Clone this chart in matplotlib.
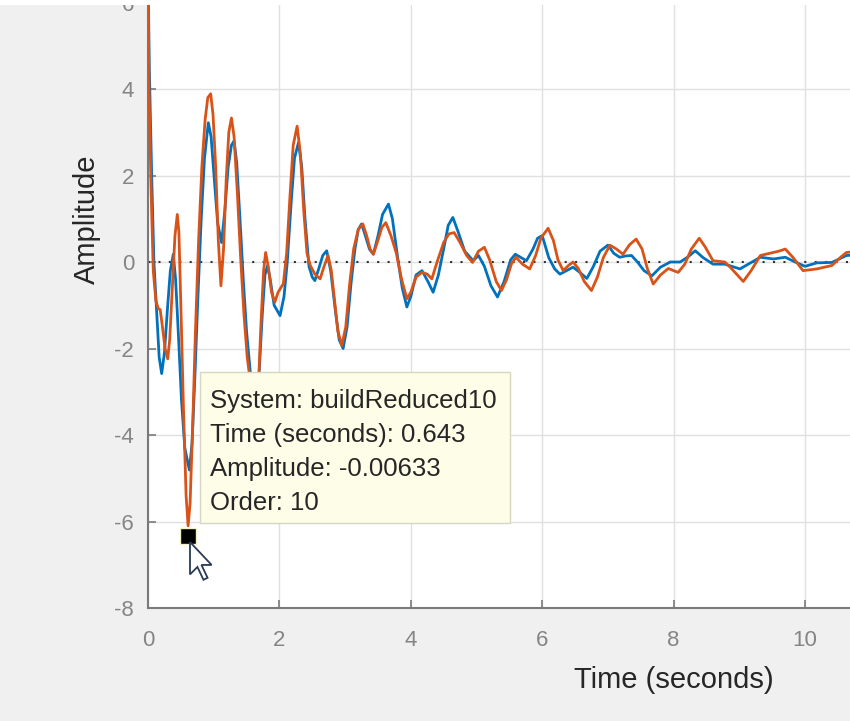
import matplotlib
matplotlib.use("Agg")
import matplotlib.pyplot as plt
from matplotlib.patches import Rectangle, Polygon

plt.rcParams['font.family'] = ['Liberation Sans', 'DejaVu Sans']
plt.rcParams['axes.unicode_minus'] = False

# impulse response: (time, amplitude)
t_full = [0.0, 0.02, 0.055, 0.09, 0.132, 0.17, 0.208, 0.25, 0.30, 0.34, 0.385, 0.42, 0.46, 0.51,
          0.56, 0.63, 0.67, 0.71, 0.76, 0.81, 0.86, 0.918, 0.96, 1.01, 1.06, 1.12, 1.17, 1.22,
          1.27, 1.31, 1.35, 1.40, 1.45, 1.50, 1.56, 1.63, 1.69, 1.74, 1.78, 1.82, 1.86, 1.92,
          2.01, 2.07, 2.12, 2.18, 2.23, 2.29, 2.34, 2.39, 2.45, 2.50, 2.54, 2.60, 2.66, 2.72,
          2.78, 2.85, 2.91, 2.97, 3.03, 3.09, 3.15, 3.20, 3.25, 3.31, 3.37, 3.43, 3.50, 3.57,
          3.66, 3.72, 3.80, 3.87, 3.94, 4.00, 4.08, 4.17, 4.26, 4.34, 4.42, 4.50, 4.57, 4.64,
          4.72, 4.82, 4.95, 5.03, 5.12, 5.22, 5.32, 5.42, 5.52, 5.59, 5.68, 5.76, 5.86, 5.93,
          6.00, 6.10, 6.19, 6.27, 6.37, 6.47, 6.58, 6.68, 6.78, 6.88, 7.00, 7.09, 7.18, 7.27,
          7.36, 7.45, 7.55, 7.67, 7.80, 7.95, 8.10, 8.22, 8.33, 8.45, 8.60, 8.78, 9.01, 9.17,
          9.32, 9.52, 9.70, 9.85, 10.0, 10.18, 10.41, 10.63, 10.75]
y_full = [6.8, 4.5, 2.07, 0.0, -1.15, -2.2, -2.58, -2.1, -1.0, -0.2, 0.18, -0.4, -1.6, -3.2,
          -4.3, -4.81, -4.2, -2.8, -0.8, 1.0, 2.4, 3.22, 2.9, 1.9, 0.9, 0.45, 1.2, 2.2,
          2.7, 2.8, 2.3, 1.0, -0.4, -1.6, -2.6, -3.0, -2.6, -1.2, -0.3, -0.08, -0.4, -1.0,
          -1.24, -0.8, 0.0, 1.4, 2.4, 2.76, 2.2, 1.0, -0.1, -0.35, -0.43, -0.15, 0.15, 0.26,
          -0.2, -1.1, -1.8, -2.0, -1.5, -0.5, 0.3, 0.75, 0.88, 0.6, 0.3, 0.18, 0.6, 1.1,
          1.34, 1.0, 0.1, -0.6, -1.04, -0.8, -0.3, -0.2, -0.45, -0.70, -0.3, 0.3, 0.85, 1.03,
          0.7, 0.25, 0.03, 0.15, -0.1, -0.55, -0.81, -0.45, 0.05, 0.18, 0.1, 0.03, 0.3, 0.55,
          0.61, 0.1, -0.16, -0.28, -0.2, -0.12, -0.25, -0.38, -0.1, 0.25, 0.39, 0.2, 0.11, 0.14,
          0.15, 0.0, -0.2, -0.32, -0.12, 0.0, 0.0, 0.12, 0.26, 0.1, -0.05, -0.05, -0.16, -0.02,
          0.11, 0.07, 0.11, 0.0, -0.1, -0.02, -0.01, 0.15, 0.16]

t_red = [0.0, 0.015, 0.045, 0.08, 0.12, 0.157, 0.185, 0.22, 0.26, 0.30, 0.33, 0.37, 0.41, 0.446,
         0.47, 0.50, 0.54, 0.58, 0.61, 0.64, 0.68, 0.72, 0.77, 0.82, 0.87, 0.91, 0.954, 0.99,
         1.03, 1.07, 1.11, 1.15, 1.19, 1.23, 1.27, 1.31, 1.36, 1.41, 1.46, 1.51, 1.56, 1.62,
         1.68, 1.72, 1.76, 1.79, 1.83, 1.88, 1.93, 1.98, 2.06, 2.11, 2.16, 2.21, 2.27, 2.32,
         2.37, 2.42, 2.47, 2.54, 2.62, 2.68, 2.74, 2.79, 2.84, 2.89, 2.95, 3.01, 3.07, 3.13,
         3.20, 3.27, 3.33, 3.38, 3.43, 3.50, 3.56, 3.62, 3.70, 3.78, 3.86, 3.94, 4.00, 4.08,
         4.17, 4.25, 4.32, 4.40, 4.50, 4.58, 4.66, 4.75, 4.85, 4.94, 5.03, 5.12, 5.20, 5.30,
         5.38, 5.46, 5.53, 5.60, 5.70, 5.81, 5.90, 5.98, 6.09, 6.17, 6.24, 6.32, 6.40, 6.47,
         6.55, 6.64, 6.75, 6.84, 6.93, 7.03, 7.13, 7.23, 7.33, 7.43, 7.52, 7.60, 7.69, 7.80,
         7.92, 8.00, 8.07, 8.17, 8.27, 8.39, 8.48, 8.60, 8.78, 8.88, 9.06, 9.18, 9.32, 9.52,
         9.60, 9.70, 9.82, 9.97, 10.18, 10.41, 10.55, 10.63, 10.75]
y_red = [6.8, 4.0, 1.8, -0.2, -0.9, -1.08, -1.1, -1.5, -2.0, -2.24, -1.8, -0.6, 0.6, 1.10,
         0.7, -1.0, -3.4, -5.4, -6.1, -5.6, -3.8, -1.7, 0.5, 2.2, 3.3, 3.8, 3.89, 3.4,
         2.2, 0.5, -0.55, 0.3, 1.9, 3.0, 3.33, 2.9, 1.6, 0.1, -1.2, -2.2, -2.8, -3.1,
         -2.9, -1.4, -0.2, 0.22, -0.1, -0.7, -0.93, -0.7, -0.5, 0.2, 1.5, 2.7, 3.14, 2.5,
         1.2, 0.2, -0.08, -0.28, -0.39, -0.1, 0.15, -0.2, -0.9, -1.6, -1.93, -1.5, -0.5, 0.3,
         0.75, 0.88, 0.6, 0.3, 0.18, 0.5, 0.8, 0.91, 0.6, 0.2, -0.4, -0.85, -0.7, -0.35,
         -0.24, -0.28, -0.39, 0.0, 0.45, 0.65, 0.68, 0.45, 0.15, -0.01, 0.25, 0.34, 0.05, -0.45,
         -0.66, -0.4, -0.05, 0.11, -0.05, -0.16, 0.15, 0.55, 0.78, 0.5, 0.05, -0.2, -0.08, 0.0,
         -0.15, -0.45, -0.66, -0.35, 0.1, 0.39, 0.3, 0.18, 0.4, 0.53, 0.3, -0.15, -0.51, -0.3,
         -0.15, -0.2, -0.24, -0.05, 0.3, 0.55, 0.35, 0.03, 0.0, -0.15, -0.45, -0.2, 0.15, 0.22,
         0.25, 0.30, 0.1, -0.2, -0.16, -0.08, 0.12, 0.22, 0.24]

x_ticks = [0, 2, 4, 6, 8, 10]
y_ticks = [-8, -6, -4, -2, 0, 2, 4, 6]

tip_t, tip_y = 0.61, -6.33
tip_lines = ["System: buildReduced10", "Time (seconds): 0.643",
             "Amplitude: -0.00633", "Order: 10"]

W, H = 850, 721
fig = plt.figure(figsize=(W / 100, H / 100), dpi=100)
fig.patch.set_facecolor('#f0f0f0')

# axes runs off the right and top of the crop
ax = fig.add_axes([148 / W, (H - 608) / H, 16 * 65.7 / W, 18 * 43.25 / H])
ax.set_facecolor('white')
ax.set_xlim(0, 16)
ax.set_ylim(-8, 10)
ax.set_xticks(x_ticks)
ax.set_yticks(y_ticks)
ax.grid(True, color='#e0e0e0', linewidth=1.0)
ax.set_axisbelow(True)
for side in ['top', 'right']:
    ax.spines[side].set_visible(False)
for side in ['left', 'bottom']:
    ax.spines[side].set_color('#7a7a7a')
    ax.spines[side].set_linewidth(1.5)
ax.tick_params(direction='in', length=6, width=1.2, color='#7a7a7a',
               labelcolor='#858585', labelsize=16)
ax.tick_params(axis='x', pad=16)
ax.tick_params(axis='y', pad=10)

ax.axhline(0, color='#333333', linewidth=1.5, linestyle=(0, (1, 4)), zorder=2)
ax.plot(t_full, y_full, color='#0072BD', linewidth=2.0, zorder=3,
        solid_joinstyle='round')
ax.plot(t_red, y_red, color='#D95319', linewidth=2.0, zorder=4,
        solid_joinstyle='round')

ax.set_xlabel('Time (seconds)', fontsize=21, color='#262626', labelpad=11)
ax.set_ylabel('Amplitude', fontsize=21, color='#262626', labelpad=10)

# data tip
ax.plot([tip_t], [tip_y], marker='s', markersize=12, color='black',
        markeredgecolor='#f4f0c8', markeredgewidth=1.0, zorder=6)
fig.add_artist(Rectangle((200 / W, (H - 523) / H), 310 / W, 151 / H,
                         transform=fig.transFigure, facecolor='#fdfde8',
                         edgecolor='#d6d6c2', linewidth=1.0, zorder=5))
for i, line in enumerate(tip_lines):
    fig.text(210 / W, (H - 401 - i * 34) / H, line, fontsize=18.5, color='#262626',
             va='center', ha='left', zorder=6)

# mouse pointer
cur = [(0, 0), (0, 24), (5.5, 18.5), (10, 28), (13, 26.5), (8.5, 17), (16, 17)]
s = 1.35
fig.add_artist(Polygon([((190 + s * dx) / W, (H - 542 - s * dy) / H) for dx, dy in cur],
                       closed=True, transform=fig.transFigure, facecolor='white',
                       edgecolor='#2b3a55', linewidth=1.3, zorder=7))

# thin white band along the top of the screenshot
fig.add_artist(Rectangle((0, (H - 5) / H), 1, 5 / H, transform=fig.transFigure,
                         facecolor='white', edgecolor='none', zorder=8))

fig.savefig('out.png', dpi=100)
